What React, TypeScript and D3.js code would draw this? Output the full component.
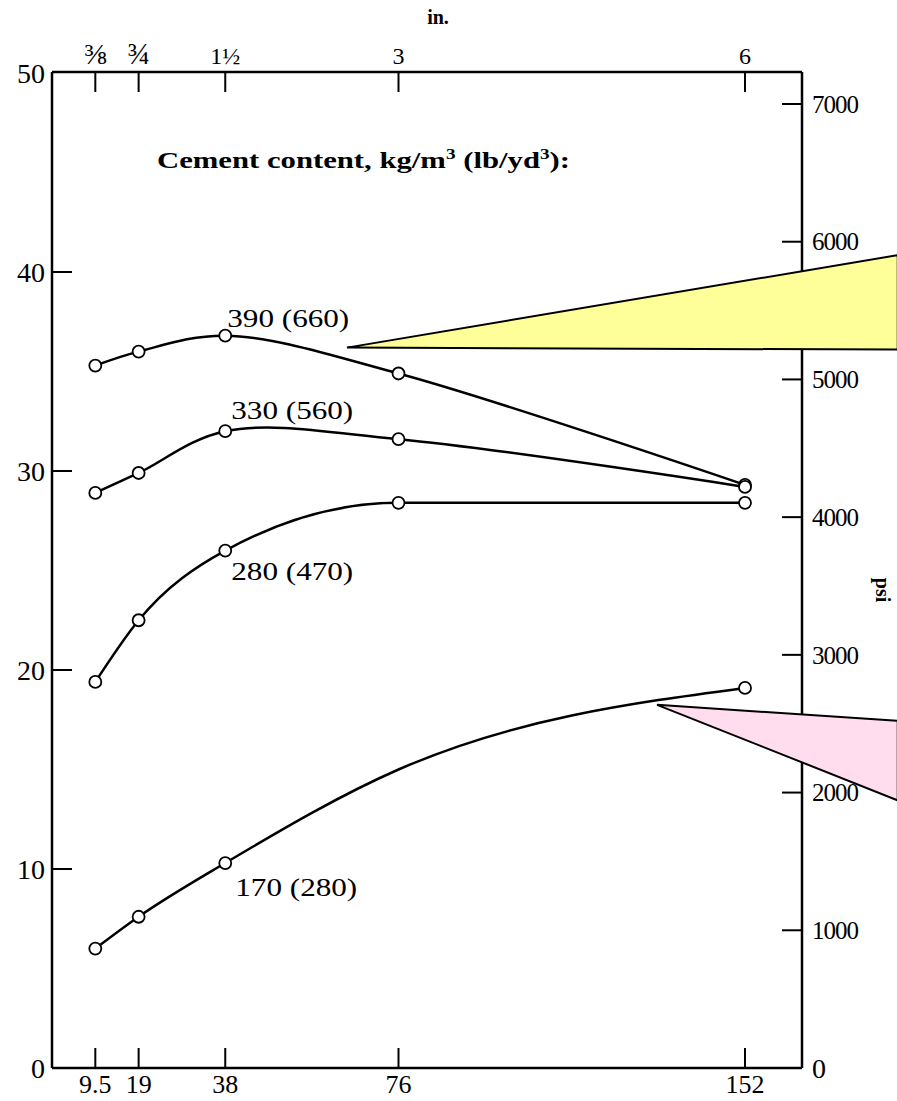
import { useEffect, useRef } from 'react'
import * as d3 from 'd3'

// aggregate size, mm (bottom axis) and inches (top axis)
const sizesMm = [9.5, 19, 38, 76, 152]
const sizesIn = ['⅜', '¾', '1½', '3', '6']

// compressive strength, MPa, one line per cement content
const series = [
  { label: '390 (660)', values: [35.3, 36.0, 36.8, 34.9, 29.3], markers: [true, true, true, true, true], smooth: true, dx: 2, dy: -9 },
  { label: '330 (560)', values: [28.9, 29.9, 32.0, 31.6, 29.2], markers: [true, true, true, true, true], smooth: true, dx: 6, dy: -12 },
  { label: '280 (470)', values: [19.4, 22.5, 26.0, 28.4, 28.4], markers: [true, true, true, true, true], smooth: false, dx: 6, dy: 29 },
  { label: '170 (280)', values: [6.0, 7.6, 10.3, 15.0, 19.1], markers: [true, true, true, false, true], smooth: false, dx: 10, dy: 33 },
]

const mpaTicks = [0, 10, 20, 30, 40, 50]
const psiTicks = [0, 1000, 2000, 3000, 4000, 5000, 6000, 7000]

// callout shapes (data units: mm, MPa)
const callouts = [
  { fill: '#ffff99', pts: [[64.7, 36.2], [185.5, 40.85], [185.5, 36.1]] },
  { fill: '#ffdcee', pts: [[132.7, 18.25], [185.5, 17.45], [185.5, 13.45]] },
]

export default function App() {
  const ref = useRef<SVGSVGElement>(null)

  useEffect(() => {
    const svg = d3.select(ref.current)
    svg.selectAll('*').remove()

    const left = 52, right = 802, top = 72, bottom = 1068
    const x = d3.scaleLinear().domain([0, 164.5]).range([left, right])
    const y = d3.scaleLinear().domain([0, 50]).range([bottom, 73])
    const yPsi = d3.scaleLinear().domain([0, 7000]).range([bottom, 104])
    const font = '"Liberation Serif", "Times New Roman", serif'

    const g = svg.append('g')

    // frame
    const frame = g.append('g').attr('stroke', '#000').attr('stroke-width', 2.5)
    frame.append('line').attr('x1', left).attr('x2', left).attr('y1', top).attr('y2', bottom)
    frame.append('line').attr('x1', right).attr('x2', right).attr('y1', top).attr('y2', bottom)
    frame.append('line').attr('x1', left).attr('x2', right).attr('y1', top).attr('y2', top)
    frame.append('line').attr('x1', left).attr('x2', right).attr('y1', bottom).attr('y2', bottom)

    // left ticks
    mpaTicks.forEach(t => {
      if (t !== 0 && t !== 50) {
        g.append('line').attr('x1', left).attr('x2', left + 20).attr('y1', y(t)).attr('y2', y(t))
          .attr('stroke', '#000').attr('stroke-width', 2)
      }
      g.append('text').attr('x', 45).attr('y', y(t)).attr('dy', '0.35em').attr('text-anchor', 'end')
        .attr('font-family', font).attr('font-size', 28).text(t)
    })

    // right ticks (psi)
    psiTicks.forEach(t => {
      if (t !== 0) {
        g.append('line').attr('x1', right - 20).attr('x2', right).attr('y1', yPsi(t)).attr('y2', yPsi(t))
          .attr('stroke', '#000').attr('stroke-width', 2)
      }
      g.append('text').attr('x', 812).attr('y', yPsi(t)).attr('dy', '0.35em')
        .attr('font-family', font).attr('font-size', t === 0 ? 28 : 25).attr('letter-spacing', -1).text(t)
    })

    // bottom ticks
    sizesMm.forEach(t => {
      g.append('line').attr('x1', x(t)).attr('x2', x(t)).attr('y1', bottom).attr('y2', bottom - 20)
        .attr('stroke', '#000').attr('stroke-width', 2)
      g.append('text').attr('x', x(t)).attr('y', 1093).attr('text-anchor', 'middle')
        .attr('font-family', font).attr('font-size', 26).text(t)
    })

    // top ticks
    sizesMm.forEach((t, i) => {
      g.append('line').attr('x1', x(t)).attr('x2', x(t)).attr('y1', top).attr('y2', top + 20)
        .attr('stroke', '#000').attr('stroke-width', 2)
      g.append('text').attr('x', x(t)).attr('y', 64).attr('text-anchor', 'middle')
        .attr('font-family', font).attr('font-size', i < 2 ? 30 : 24).text(sizesIn[i])
    })

    g.append('text').attr('x', 438).attr('y', 24).attr('text-anchor', 'middle')
      .attr('font-family', font).attr('font-weight', 'bold').attr('font-size', 20).text('in.')

    g.append('text').attr('transform', `translate(876,590) rotate(90)`).attr('text-anchor', 'middle')
      .attr('font-family', font).attr('font-weight', 'bold').attr('font-size', 20).text('psi')

    const title = g.append('text').attr('x', 157).attr('y', 168)
      .attr('font-family', font).attr('font-weight', 'bold').attr('font-size', 24)
      .attr('textLength', 413).attr('lengthAdjust', 'spacingAndGlyphs')
    title.append('tspan').text('Cement content, kg/m')
    title.append('tspan').attr('font-size', 15).attr('dy', -9).text('3')
    title.append('tspan').attr('dy', 9).text(' (lb/yd')
    title.append('tspan').attr('font-size', 15).attr('dy', -9).text('3')
    title.append('tspan').attr('dy', 9).text('):')

    // lines
    const smoothLine = d3.line<number>()
      .x((_, i) => x(sizesMm[i]))
      .y(d => y(d))
      .curve(d3.curveCatmullRom.alpha(0.5))
    const monoLine = d3.line<number>()
      .x((_, i) => x(sizesMm[i]))
      .y(d => y(d))
      .curve(d3.curveMonotoneX)

    series.forEach(s => {
      g.append('path').attr('d', (s.smooth ? smoothLine : monoLine)(s.values)).attr('fill', 'none')
        .attr('stroke', '#000').attr('stroke-width', 2.5)
      s.values.forEach((v, i) => {
        if (!s.markers[i]) return
        g.append('circle').attr('cx', x(sizesMm[i])).attr('cy', y(v)).attr('r', 6)
          .attr('fill', '#fff').attr('stroke', '#000').attr('stroke-width', 1.8)
      })
      g.append('text').attr('x', x(38) + s.dx).attr('y', y(s.values[2]) + s.dy)
        .attr('font-family', font).attr('font-size', 26)
        .attr('textLength', 122).attr('lengthAdjust', 'spacingAndGlyphs').text(s.label)
    })

    // callouts
    callouts.forEach(c => {
      g.append('path')
        .attr('d', 'M' + c.pts.map(p => `${x(p[0])},${y(p[1])}`).join('L') + 'Z')
        .attr('fill', c.fill).attr('stroke', '#000').attr('stroke-width', 2)
    })
  }, [])

  return (
    <svg ref={ref} width={897} height={1101}
      style={{ position: 'absolute', left: 0, top: 0, background: '#fff' }} />
  )
}
